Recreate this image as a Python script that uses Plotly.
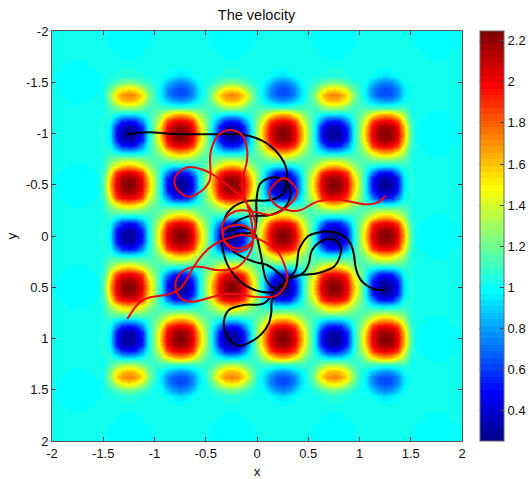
import plotly.graph_objects as go

STEP = .0625
SIZE = 65
BACKGROUND = 1.015
PATCH_VALUE = .985

# tiles of velocity (offsets -.1875 ... +.1875 round a blob centre)
tile_blue = [
 [1.08,1.02,.96,.95,.96,1.02,1.08],
 [1.02,.76,.56,.52,.56,.76,1.02],
 [.96,.56,.37,.32,.37,.56,.96],
 [.95,.52,.32,.27,.32,.52,.95],
 [.96,.56,.37,.32,.37,.56,.96],
 [1.02,.76,.56,.52,.56,.76,1.02],
 [1.08,1.02,.96,.95,.96,1.02,1.08]]
tile_red = [
 [1.30,1.45,1.60,1.64,1.60,1.45,1.30],
 [1.45,1.85,1.98,2.02,1.98,1.85,1.45],
 [1.60,1.98,2.15,2.18,2.15,1.98,1.60],
 [1.64,2.02,2.18,2.25,2.18,2.02,1.64],
 [1.60,1.98,2.15,2.18,2.15,1.98,1.60],
 [1.45,1.85,1.98,2.02,1.98,1.85,1.45],
 [1.30,1.45,1.60,1.64,1.60,1.45,1.30]]
# small blobs of the outer rows, listed outermost row first (y offsets from -1.625 to -1.25)
tile_orange = [
 [1.02,1.02,1.03,1.04,1.03,1.02,1.02],
 [1.03,1.04,1.05,1.06,1.05,1.04,1.03],
 [1.06,1.12,1.18,1.22,1.18,1.12,1.06],
 [1.18,1.36,1.50,1.54,1.50,1.36,1.18],
 [1.28,1.55,1.70,1.74,1.70,1.55,1.28],
 [1.22,1.45,1.58,1.62,1.58,1.45,1.22],
 [1.10,1.20,1.28,1.30,1.28,1.20,1.10]]
tile_azure = [
 [1.03,1.02,1.00,.99,1.00,1.02,1.03],
 [1.03,1.00,.95,.92,.95,1.00,1.03],
 [1.00,.88,.78,.74,.78,.88,1.00],
 [.95,.76,.66,.62,.66,.76,.95],
 [.95,.76,.66,.63,.66,.76,.95],
 [1.00,.90,.82,.78,.82,.90,1.00],
 [1.12,1.12,1.12,1.12,1.12,1.12,1.12]]
strip_inner_gap = [1.17,1.24,1.28,1.30,1.28,1.24,1.17]
strip_small_gap = [1.015,1.015,1.00,1.03,1.06,1.07,1.08,1.13]
strip_rim_blue = [1.03,1.04,1.05,1.05,1.05,1.04,1.03]
strip_rim_red = [1.04,1.08,1.11,1.12,1.11,1.08,1.04]
GAP_CROSS = 1.13

blob_columns = [-1.25,-.75,-.25,.25,.75,1.25]
gap_columns = [-1,-.5,0,.5,1]
gap_rows = [-.75,-.25,.25,.75]
blob_rows = {-1:"BRBRBR",-.5:"RBRBRB",0:"BRBRBR",.5:"RBRBRB",1:"BRBRBR"}
small_row_pattern = "OAOAOA"
patch_centres = [(-1.75,-1.5),(-1.75,-.5),(-1.75,.5),(-1.75,1.5),(-1.25,-1.95),(-.25,-1.95),(.75,-1.95),(1.75,-1.95),
                 (-1.25,1.95),(-.25,1.95),(.75,1.95),(1.75,1.95),(1.75,-1),(1.75,0),(1.75,1)]
tile_patch = [
 [0,0,1,1,1,0,0],
 [0,1,1,1,1,1,0],
 [1,1,1,1,1,1,1],
 [1,1,1,1,1,1,1],
 [1,1,1,1,1,1,1],
 [0,1,1,1,1,1,0],
 [0,0,1,1,1,0,0]]

def idx(v):
    return round((v+2)/STEP)

grid = [-2+STEP*i for i in range(SIZE)]
velocity = [[BACKGROUND]*SIZE for _ in range(SIZE)]

for cx,cy in patch_centres:
    for j,row in enumerate(tile_patch):
        for i,on in enumerate(row):
            a,b = idx(cy)+j-3, idx(cx)+i-3
            if on and 0<=a<SIZE and 0<=b<SIZE:
                velocity[a][b] = PATCH_VALUE

for cy,pattern in blob_rows.items():
    for cx,kind in zip(blob_columns,pattern):
        tile = tile_blue if kind=="B" else tile_red
        for j,row in enumerate(tile):
            for i,v in enumerate(row):
                velocity[idx(cy)+j-3][idx(cx)+i-3] = v
    for gx in gap_columns:
        for j,v in enumerate(strip_inner_gap):
            velocity[idx(cy)+j-3][idx(gx)] = v
    rim_left = strip_rim_blue if pattern[0]=="B" else strip_rim_red
    rim_right = strip_rim_blue if pattern[-1]=="B" else strip_rim_red
    for j in range(7):
        velocity[idx(cy)+j-3][idx(-1.5)] = rim_left[j]
        velocity[idx(cy)+j-3][idx(1.5)] = rim_right[j]
for gy in gap_rows:
    for cx in blob_columns:
        for i,v in enumerate(strip_inner_gap):
            velocity[idx(gy)][idx(cx)+i-3] = v
    for gx in gap_columns:
        velocity[idx(gy)][idx(gx)] = GAP_CROSS
    velocity[idx(gy)][idx(-1.5)] = 1.05
    velocity[idx(gy)][idx(1.5)] = 1.05

for sign in (-1,1):
    top = idx(-1.625) if sign<0 else idx(1.625)
    for cx,kind in zip(blob_columns,small_row_pattern):
        tile = tile_orange if kind=="O" else tile_azure
        for j,row in enumerate(tile):
            for i,v in enumerate(row):
                velocity[top+sign*(-j) if sign>0 else top+j][idx(cx)+i-3] = v
    for gx in gap_columns:
        for j,v in enumerate(strip_small_gap):
            velocity[top-j if sign>0 else top+j-1][idx(gx)] = v

# trajectories
black_x = [-1.265,-1.07,-.81,-.55,-.258,-.12,.034,.14,.229,.28,.294,.262,.132,-.128,-.291,-.34,-.34,-.259,-.063,.164,.294,.40,.47,.506,.538,.652,.75,.815,.808,.75,.587,.359,.197,.099,.034,-.024,-.161,-.291,-.226,-.096,.132,.262,.327,.294,.164,.034,-.005,-.005,-.031,-.193,-.291,-.226,-.031,.099,.229,.294,.245,.148,.14,.115,.05,-.031,-.177,-.25,-.307,-.324,-.275,-.128,.067,.197,.294,.376,.408,.441,.50,.587,.717,.83,.912,.945,.961,.99,1.042,1.13,1.254]
black_y = [-.992,-1.011,-.995,-.992,-.995,-.985,-.937,-.87,-.774,-.68,-.579,-.416,-.351,-.335,-.221,-.026,.104,.332,.51,.543,.429,.39,.34,.267,.137,.039,.033,.104,.202,.299,.364,.397,.511,.446,.169,-.026,-.084,-.042,-.123,-.189,-.205,-.27,-.4,-.514,-.572,-.514,-.351,-.156,-.042,-.019,.039,.153,.25,.283,.381,.478,.543,.625,.74,.852,.95,1.015,1.073,1.03,.95,.836,.722,.673,.657,.511,.429,.332,.137,.072,0,-.032,-.042,-.01,.072,.18,.299,.39,.462,.515,.527]
red_x = [-1.265,-1.2,-1.136,-1.05,-.941,-.85,-.746,-.616,-.519,-.42,-.324,-.128,.099,.2,.262,.294,.197,-.031,-.19,-.356,-.49,-.616,-.746,-.795,-.73,-.6,-.389,-.27,-.161,-.047,-.063,-.193,-.324,-.307,-.177,-.047,-.047,-.08,-.145,-.128,-.10,-.096,-.145,-.275,-.389,-.454,-.454,-.46,-.551,-.681,-.795,-.795,-.681,-.519,-.40,-.291,-.112,-.031,-.015,-.063,-.193,-.307,-.34,-.307,-.193,-.031,.132,.278,.392,.262,.122,.164,.327,.424,.587,.75,.912,1.058,1.172,1.254]
red_y = [.81,.71,.64,.6,.582,.565,.51,.299,.169,.085,.039,-.01,.072,.15,.267,.429,.576,.592,.565,.576,.61,.641,.608,.462,.348,.299,.332,.33,.283,.104,-.059,-.107,-.059,.072,.153,.072,-.091,-.254,-.481,-.611,-.72,-.839,-.985,-1.034,-.969,-.806,-.628,-.546,-.432,-.384,-.481,-.579,-.67,-.644,-.58,-.498,-.335,-.189,-.058,.072,.12,.055,-.042,-.172,-.247,-.237,-.205,-.27,-.433,-.563,-.433,-.319,-.247,-.253,-.335,-.361,-.335,-.309,-.325,-.393]

axis_ticks = [-2,-1.5,-1,-.5,0,.5,1,1.5,2]
axis_labels = ["-2","-1.5","-1","-0.5","0","0.5","1","1.5","2"]
cbar_ticks = [.4,.6,.8,1,1.2,1.4,1.6,1.8,2,2.2]
cbar_labels = ["0.4","0.6","0.8","1","1.2","1.4","1.6","1.8","2","2.2"]
ZMIN, ZMAX = .253, 2.247

# the 64 levels of the jet colormap
jet_stops = [(1,(0,0,143)),(8,(0,0,255)),(24,(0,255,255)),(40,(255,255,0)),(56,(255,0,0)),(64,(128,0,0))]
def jet(level):
    for (a,ca),(b,cb) in zip(jet_stops,jet_stops[1:]):
        if level <= b:
            f = (level-a)/(b-a)
            return "rgb(%d,%d,%d)" % tuple(round(p+(q-p)*f) for p,q in zip(ca,cb))
colorscale = []
for i in range(64):
    c = jet(i+1)
    colorscale += [[i/64,c],[(i+1)/64,c]]

FONT = "Liberation Sans, Helvetica, Arial, sans-serif"
INK = "#111"
CBAR_X = 1.0427
fig = go.Figure()
fig.add_trace(go.Heatmap(x=grid,y=grid,z=velocity,zsmooth="best",zmin=ZMIN,zmax=ZMAX,colorscale=colorscale,
    colorbar=dict(x=CBAR_X,xanchor="left",xpad=0,ypad=0,y=0,yanchor="bottom",len=1,thickness=23.5,
        outlinecolor="#666",outlinewidth=1,ticks="inside",ticklen=4,tickcolor="#444",
        tickvals=cbar_ticks,ticktext=cbar_labels,tickfont=dict(family=FONT,size=13,color=INK))))
fig.add_trace(go.Scatter(x=black_x,y=black_y,mode="lines",line=dict(color="black",width=2,shape="spline",smoothing=1),showlegend=False))
fig.add_trace(go.Scatter(x=red_x,y=red_y,mode="lines",line=dict(color="#ee0a0a",width=2,shape="spline",smoothing=1),showlegend=False))
for v in cbar_ticks:
    p = (v-ZMIN)/(ZMAX-ZMIN)
    fig.add_shape(type="line",xref="paper",yref="paper",x0=CBAR_X,x1=CBAR_X+4/410,y0=p,y1=p,line=dict(color="#444",width=1))
axis = dict(tickvals=axis_ticks,ticktext=axis_labels,ticks="inside",ticklen=4,tickcolor="#333",mirror="ticks",showline=True,
    linecolor="#555",linewidth=1,showgrid=False,zeroline=False,automargin=False,tickfont=dict(family=FONT,size=13,color=INK))
fig.update_layout(width=528,height=479,autosize=False,margin=dict(l=52,r=66,t=31,b=38,autoexpand=False),paper_bgcolor="white",plot_bgcolor="white",
    title=dict(text="The velocity",x=(256.5/528),xanchor="center",y=1-15/479,yanchor="middle",font=dict(family=FONT,size=14.5,color=INK)),
    xaxis=dict(axis,range=[-2,2],title=dict(text="x",font=dict(family=FONT,size=13.5,color=INK),standoff=6)),
    yaxis=dict(axis,range=[2,-2],title=dict(text="y",font=dict(family=FONT,size=13.5,color=INK),standoff=6)))
fig.write_html("out.html",config={"displayModeBar":False},post_script="document.body.style.margin='0';")
